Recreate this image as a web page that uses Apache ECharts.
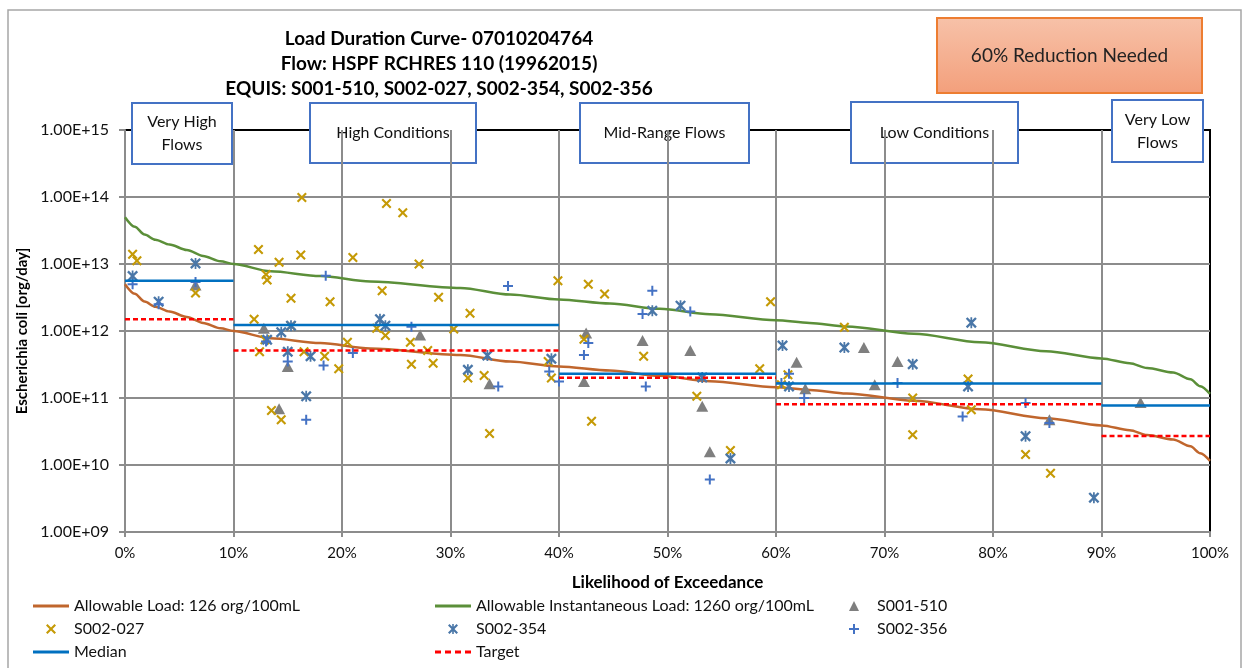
<!DOCTYPE html>
<html>
<head>
<meta charset="utf-8">
<script src="https://cdn.jsdelivr.net/npm/echarts@6/dist/echarts.min.js"></script>
<style>
html,body{margin:0;padding:0;background:#fff;}
#c{width:1244px;height:668px;}
</style>
</head>
<body>
<div id="c"></div>
<script>
// ---------- DATA ----------
const curvePct = [0,0.9,1.8,2.8,4.1,5.7,7.2,8.8,10,13.4,18,22.6,30.9,35.5,40,44.7,49.3,53.9,60,63.1,66.5,72.7,78.8,84.9,90,92.6,94.2,96.6,98.2,99.1,100];
const allowableLoad = [5.0e12,3.6e12,2.75e12,2.3e12,1.95e12,1.62e12,1.32e12,1.1e12,1.0e12,7.8e11,6.6e11,5.5e11,4.4e11,3.5e11,2.95e11,2.57e11,2.14e11,1.78e11,1.45e11,1.32e11,1.17e11,9.1e10,6.8e10,5.0e10,3.9e10,3.3e10,2.8e10,2.4e10,1.9e10,1.5e10,1.15e10];
const allowableInst = [5.0e13,3.6e13,2.75e13,2.3e13,1.95e13,1.62e13,1.32e13,1.1e13,1.0e13,7.8e12,6.6e12,5.5e12,4.4e12,3.5e12,2.95e12,2.57e12,2.14e12,1.78e12,1.45e12,1.32e12,1.17e12,9.1e11,6.8e11,5.0e11,3.9e11,3.3e11,2.8e11,2.4e11,1.9e11,1.5e11,1.15e11];

const s001Pct = [6.5,12.8,15.0,14.2,27.2,33.6,42.5,42.3,47.7,52.1,53.2,53.9,61.9,62.7,68.1,69.1,71.2,85.2,93.6];
const s001Val = [4.85e12,1.1e12,2.95e11,6.9e10,8.75e11,1.63e11,9.3e11,1.77e11,7.2e11,5.1e11,7.5e10,1.57e10,3.43e11,1.37e11,5.66e11,1.58e11,3.5e11,4.75e10,8.6e10];

const s027Pct = [0.7,1.1,6.5,12.3,14.2,16.2,16.3,13.0,13.1,21.0,15.3,18.9,11.9,15.3,12.9,12.4,20.5,16.5,18.4,19.7,13.5,14.4,24.1,25.6,27.1,23.7,28.9,31.8,23.2,24.0,30.3,26.3,27.9,26.4,28.4,31.6,33.1,33.6,39.9,42.7,44.2,39.0,39.3,42.3,43.0,59.5,47.8,58.5,52.7,55.8,66.3,61.1,72.6,72.6,77.7,78.0,83.0,85.3,60.5];
const s027Val = [1.4e13,1.12e13,3.7e12,1.65e13,1.06e13,1.36e13,9.8e13,7.0e12,5.75e12,1.25e13,3.08e12,2.74e12,1.5e12,1.2e12,7.4e11,4.9e11,6.8e11,4.9e11,4.2e11,2.73e11,6.5e10,4.75e10,8.0e13,5.8e13,1.0e13,4.0e12,3.2e12,1.84e12,1.1e12,8.55e11,1.07e12,6.8e11,5.1e11,3.2e11,3.3e11,1.99e11,2.17e11,2.94e10,5.6e12,5.0e12,3.56e12,3.5e11,1.99e11,7.55e11,4.5e10,2.74e12,4.2e11,2.73e11,1.06e11,1.64e10,1.14e12,2.22e11,1.0e11,2.84e10,1.92e11,6.7e10,1.43e10,7.5e9,1.58e11];

const s354Pct = [0.7,6.5,3.1,14.4,15.3,13.1,15.0,17.1,16.7,23.5,24.0,31.6,33.4,39.3,48.6,51.2,53.2,55.8,60.6,61.2,66.3,72.6,78.0,77.7,83.0,89.3];
const s354Val = [6.6e12,1.02e13,2.74e12,9.6e11,1.2e12,7.4e11,4.9e11,4.2e11,1.06e11,1.5e12,1.2e12,2.64e11,4.3e11,3.85e11,2.0e12,2.39e12,2.03e11,1.25e10,6.07e11,1.49e11,5.66e11,3.2e11,1.33e12,1.49e11,2.69e10,3.25e9];

const s356Pct = [0.7,6.5,3.1,18.5,15.0,18.3,21.0,16.7,13.0,35.3,26.4,34.4,39.1,40.0,42.3,42.7,48.6,47.7,52.1,48.0,53.9,60.5,62.6,61.2,71.2,77.2,83.0,85.2];
const s356Val = [4.97e12,5.4e12,2.5e12,6.7e12,3.5e11,3.05e11,4.7e11,4.75e10,6.95e11,4.7e12,1.16e12,1.49e11,2.49e11,1.77e11,4.4e11,6.6e11,4.0e12,1.8e12,1.95e12,1.49e11,6.1e9,1.67e11,1.0e11,2.3e11,1.67e11,5.3e10,8.4e10,4.25e10];

const segStart = [0,10,40,60,90];
const segEnd = [10,40,60,90,100];
const medianVals = [5.6e12,1.23e12,2.3e11,1.65e11,7.7e10];
const targetVals = [1.5e12,5.1e11,2.0e11,8.1e10,2.7e10];

const xTickFormat = '{value}%';
const regionLabels = ['Very High\nFlows','High Conditions','Mid-Range Flows','Low Conditions','Very Low\nFlows'];
const titleLines = ['Load Duration Curve- 07010204764','Flow: HSPF RCHRES 110 (19962015)','EQUIS: S001-510, S002-027, S002-354, S002-356'];
const reductionText = '60% Reduction Needed';

// ---------- BUILD ----------
const zip = (a,b) => a.map((v,i)=>[v,b[i]]);
function segData(vals){
  const d=[];
  segStart.forEach((s,i)=>{ d.push([s,vals[i]],[segEnd[i],vals[i]],[segEnd[i],'-']); });
  return d;
}
const FONT = 'Lato, "Liberation Sans", sans-serif';
const X_PATH = 'path://M1.5,0L5,3.5L8.5,0L10,1.5L6.5,5L10,8.5L8.5,10L5,6.5L1.5,10L0,8.5L3.5,5L0,1.5Z';
const STAR_PATH = 'path://M1.5,0L5,3.5L8.5,0L10,1.5L6.5,5L10,8.5L8.5,10L5,6.5L1.5,10L0,8.5L3.5,5L0,1.5ZM4.2,0L5.8,0L5.8,10L4.2,10Z';
const PLUS_PATH = 'path://M4,0L6,0L6,4L10,4L10,6L6,6L6,10L4,10L4,6L0,6L0,4L4,4Z';
const TRI_PATH = 'path://M5,0L10,10L0,10Z';
const LINE_ICON = 'path://M0,0L36,0L36,3L0,3Z';
const DASH_ICON = 'path://M0,0L6,0L6,3L0,3ZM10,0L16,0L16,3L10,3ZM20,0L26,0L26,3L20,3ZM30,0L36,0L36,3L30,3Z';

const boxes = [
  {x:132,y:103,w:100,h:61},
  {x:310,y:103,w:166,h:60},
  {x:580,y:103,w:169,h:60},
  {x:851,y:102,w:167,h:61},
  {x:1112,y:100,w:91,h:62}
];
const graphics = [
  {type:'rect', z:-10, shape:{x:8,y:10,width:1233,height:700}, style:{fill:'none',stroke:'#a6a6a6',lineWidth:1.5}},
  {type:'text', x:439, y:26, style:{text:titleLines.join('\n'), textAlign:'center', fontFamily:FONT, fontSize:19, fontWeight:'bold', lineHeight:25, fill:'#000'}},
  {type:'group', children:[
    {type:'rect', shape:{x:937,y:18,width:265,height:75}, style:{fill:new echarts.graphic.LinearGradient(0,0,0,1,[{offset:0,color:'#f7c2a9'},{offset:1,color:'#f39f7b'}]), stroke:'#ed7d31', lineWidth:2}},
    {type:'text', x:1069.5, y:55.5, style:{text:reductionText, textAlign:'center', textVerticalAlign:'middle', fontFamily:FONT, fontSize:19, fill:'#222'}}
  ]}
];
boxes.forEach((b,i)=>{
  graphics.push({type:'group', z:100, children:[
    {type:'rect', shape:{x:b.x,y:b.y,width:b.w,height:b.h}, style:{fill:'#fff',stroke:'#4472c4',lineWidth:2}},
    {type:'text', x:b.x+b.w/2, y:b.y+b.h/2, style:{text:regionLabels[i], textAlign:'center', textVerticalAlign:'middle', fontFamily:FONT, fontSize:16, lineHeight:23, fill:'#111'}}
  ]});
});

const chart = echarts.init(document.getElementById('c'), null, {renderer:'canvas'});
const legendText = {fontFamily:FONT, fontSize:16, color:'#111', lineHeight:16};
const legendBase = {top:598, orient:'vertical', padding:0, itemGap:7, itemWidth:36, itemHeight:10, textStyle:legendText, height:80};
const option = {
  animation:false,
  textStyle:{fontFamily:FONT},
  grid:{left:125,right:34,top:130,bottom:136,show:true,borderColor:'#000',borderWidth:2,backgroundColor:'transparent'},
  xAxis:{
    type:'value', min:0, max:100, interval:10,
    name:'Likelihood of Exceedance', nameLocation:'middle', nameGap:42,
    nameTextStyle:{fontFamily:FONT,fontSize:17,fontWeight:'bold',color:'#000'},
    axisLine:{show:true,lineStyle:{color:'#8c8c8c',width:2}},
    axisTick:{show:true,length:5,lineStyle:{color:'#8c8c8c',width:2}},
    axisLabel:{formatter:xTickFormat,fontFamily:FONT,fontSize:15,color:'#111',margin:14},
    splitLine:{show:true,showMinLine:false,showMaxLine:false,lineStyle:{color:'#8c8c8c',width:2}}
  },
  yAxis:{
    type:'log', logBase:10, min:1e9, max:1e15, splitNumber:6,
    name:'Escherichia coli [org/day]', nameLocation:'middle', nameGap:87, nameRotate:90,
    nameTextStyle:{fontFamily:FONT,fontSize:15,fontWeight:'bold',color:'#000'},
    axisLine:{show:true,lineStyle:{color:'#8c8c8c',width:2}},
    axisTick:{show:true,length:6,lineStyle:{color:'#8c8c8c',width:2}},
    axisLabel:{fontFamily:FONT,fontSize:16,color:'#111',margin:16,
      formatter:function(v){const e=Math.round(Math.log10(v));return '1.00E+'+(e<10?'0'+e:e);}},
    splitLine:{show:true,showMinLine:false,showMaxLine:false,lineStyle:{color:'#8c8c8c',width:2}},
    minorTick:{show:false}
  },
  legend:[
    Object.assign({left:33, data:[
      {name:'Allowable Load: 126 org/100mL', icon:LINE_ICON},
      {name:'S002-027'},
      {name:'Median', icon:LINE_ICON}]}, legendBase),
    Object.assign({left:435, data:[
      {name:'Allowable Instantaneous Load: 1260 org/100mL', icon:LINE_ICON},
      {name:'S002-354'},
      {name:'Target', icon:DASH_ICON}]}, legendBase),
    Object.assign({left:849, data:[{name:'S001-510', icon:TRI_PATH},{name:'S002-356'}]}, legendBase)
  ],
  graphic:graphics,
  series:[
    {name:'Allowable Load: 126 org/100mL', type:'line', data:zip(curvePct,allowableLoad), showSymbol:false, symbol:'none', smooth:0.3, smoothMonotone:'x',
     lineStyle:{color:'#c0662d',width:2.5}, itemStyle:{color:'#c0662d'}, z:3},
    {name:'Allowable Instantaneous Load: 1260 org/100mL', type:'line', data:zip(curvePct,allowableInst), showSymbol:false, symbol:'none', smooth:0.3, smoothMonotone:'x',
     lineStyle:{color:'#5b8f39',width:2.5}, itemStyle:{color:'#5b8f39'}, z:3},
    {name:'S001-510', type:'scatter', data:zip(s001Pct,s001Val), symbol:TRI_PATH, symbolSize:[12,11], itemStyle:{color:'#7f7f7f',opacity:1}, z:4},
    {name:'S002-027', type:'scatter', data:zip(s027Pct,s027Val), symbol:X_PATH, symbolSize:10, itemStyle:{color:'#c59a06',opacity:1}, z:5},
    {name:'S002-354', type:'scatter', data:zip(s354Pct,s354Val), symbol:STAR_PATH, symbolSize:11, itemStyle:{color:'#4a77a8',opacity:1}, z:6},
    {name:'S002-356', type:'scatter', data:zip(s356Pct,s356Val), symbol:PLUS_PATH, symbolSize:10, itemStyle:{color:'#4472c4',opacity:1}, z:7},
    {name:'Median', type:'line', data:segData(medianVals), showSymbol:false, symbol:'none', connectNulls:false,
     lineStyle:{color:'#0070c0',width:2.5}, itemStyle:{color:'#0070c0'}, z:8},
    {name:'Target', type:'line', data:segData(targetVals), showSymbol:false, symbol:'none', connectNulls:false,
     lineStyle:{color:'#ff0000',width:2.5,type:[5,3]}, itemStyle:{color:'#ff0000'}, z:9}
  ]
};
chart.setOption(option);
</script>
</body>
</html>
